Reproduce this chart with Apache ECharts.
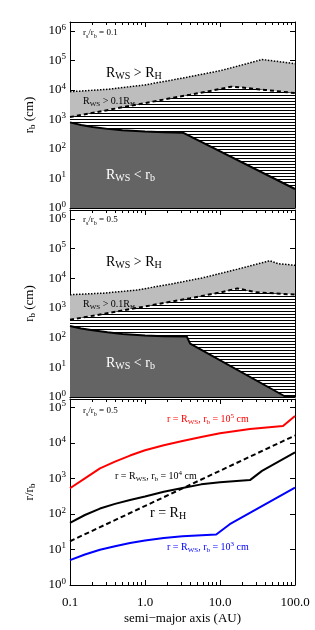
<!DOCTYPE html>
<html><head><meta charset="utf-8">
<script src="https://cdn.jsdelivr.net/npm/echarts@6/dist/echarts.min.js"></script>
<style>html,body{margin:0;padding:0;background:#fff}#c{width:315px;height:630px}</style>
</head><body><div id="c"></div>
<script>
// ---- data (semi-major axis in AU, values in cm or r/r_b) ----
// Panel 1: r_s/r_b = 0.1
const p1DottedAU = [0.1, 0.316, 1, 3.16, 10, 20, 36.3, 100];
const p1DottedR  = [8710, 10470, 14790, 25120, 44670, 70790, 107200, 77620];
const p1DashedAU = [0.1, 1, 4, 10, 14, 20, 40, 100];
const p1DashedR  = [1200, 3600, 6900, 10700, 12900, 12000, 10000, 7800];
const p1SolidAU  = [0.1, 0.141, 0.2, 0.316, 0.5, 1, 1.78, 3.2, 100];
const p1SolidR   = [794, 646, 550, 479, 427, 389, 367, 355, 4.4];
// Panel 2: r_s/r_b = 0.5
const p2DottedAU = [0.1, 0.28, 0.77, 2.15, 6, 16.7, 46, 60, 100];
const p2DottedR  = [2800, 3160, 4000, 6300, 10500, 20000, 38900, 30900, 27500];
const p2DashedAU = [0.1, 1, 4, 10, 17, 30, 100];
const p2DashedR  = [400, 1120, 2140, 3310, 4570, 3390, 2820];
const p2SolidAU  = [0.1, 0.141, 0.2, 0.316, 0.5, 1, 1.78, 3.6, 4.0, 76, 100];
const p2SolidR   = [245, 204, 178, 151, 132, 117, 112, 110, 63, 1, 1];
// Panel 3: r / r_b
const redAU   = [0.1, 0.158, 0.251, 0.398, 0.631, 1, 1.78, 3.16, 5.62, 10, 25.1, 69.2, 100];
const redR    = [525, 1000, 1905, 2950, 4365, 6166, 8511, 11220, 14450, 18620, 24550, 29510, 56230];
const blackAU = [0.1, 0.158, 0.251, 0.398, 0.631, 1, 1.78, 3.16, 5.62, 10, 25.1, 36.3, 100];
const blackR  = [56, 93, 141, 191, 245, 309, 417, 537, 676, 776, 891, 1622, 5370];
const hillAU  = [0.1, 100];
const hillR   = [17, 16000];
const blueAU  = [0.1, 0.158, 0.251, 0.398, 0.631, 1, 1.78, 3.16, 8.9, 13.5, 100];
const blueR   = [5.0, 7.2, 9.8, 12.3, 15.1, 17.8, 20.9, 23.4, 26.3, 51.3, 550];
const xTickLabels = ['0.1', '1.0', '10.0', '100.0'];

const zip = (a, b) => a.map((v, i) => [v, b[i]]);
const FONT = 'Liberation Serif';

// hatch pattern (white with black horizontal lines)
const hatch = document.createElement('canvas');
hatch.width = 4; hatch.height = 3;
const hc = hatch.getContext('2d');
hc.fillStyle = '#fff'; hc.fillRect(0, 0, 4, 3);
hc.fillStyle = '#000'; hc.fillRect(0, 2, 4, 1);

const richBase = {
  n: {fontFamily: FONT, fontSize: 13, color: '#000', lineHeight: 16},
  sup: {fontFamily: FONT, fontSize: 9, color: '#000', verticalAlign: 'top', lineHeight: 9},
  sub: {fontFamily: FONT, fontSize: 9, color: '#000', verticalAlign: 'bottom', lineHeight: 9}
};

function yLab(v) {
  const l = Math.log10(v), n = Math.round(l);
  if (Math.abs(l - n) > 1e-6) return '';
  return '{n|10}{sup|' + n + '}';
}
function xLab(v) {
  const l = Math.log10(v), n = Math.round(l);
  if (Math.abs(l - n) > 1e-6) return '';
  return xTickLabels[n + 1];
}

const grids = [
  {left: 70, right: 20, top: 22, height: 186},
  {left: 70, right: 20, top: 210, height: 187},
  {left: 70, right: 20, top: 399, height: 186}
];
const yMax = [2e6, 2e6, 1.7e5];

const xAxes = [], yAxes = [];
grids.forEach((g, i) => {
  ['bottom', 'top'].forEach(pos => {
    const showLab = (i === 2 && pos === 'bottom');
    xAxes.push({
      type: 'log', logBase: 10, gridIndex: i, position: pos, min: 0.1, max: 100,
      axisLine: {show: true, onZero: false, lineStyle: {color: '#000', width: 1}},
      axisTick: {show: true, inside: true, length: 5, lineStyle: {color: '#000'}},
      minorTick: {show: true, splitNumber: 9, length: 3, lineStyle: {color: '#000'}},
      splitLine: {show: false},
      axisLabel: {show: showLab, formatter: xLab, fontFamily: FONT, fontSize: 13, color: '#000', margin: 11},
      name: showLab ? 'semi\u2212major axis (AU)' : '',
      nameLocation: 'middle', nameGap: 27,
      nameTextStyle: {fontFamily: FONT, fontSize: 13, color: '#000'}
    });
  });
  ['left', 'right'].forEach(pos => {
    const left = pos === 'left';
    yAxes.push({
      type: 'log', logBase: 10, gridIndex: i, position: pos, min: 1, max: yMax[i],
      axisLine: {show: true, onZero: false, lineStyle: {color: '#000', width: 1}},
      axisTick: {show: true, inside: true, length: 5, lineStyle: {color: '#000'}},
      minorTick: {show: false},
      splitLine: {show: false},
      axisLabel: {show: left, formatter: yLab, margin: 4, rich: richBase, showMaxLabel: false},
      name: left ? (i < 2 ? '{n|r}{sub|b}{n| (cm)}' : '{n|r/r}{sub|b}') : '',
      nameLocation: 'middle', nameRotate: 90, nameGap: 28,
      nameTextStyle: {rich: richBase}
    });
  });
});

function lineS(grid, data, color, type, width, area, z) {
  const s = {
    type: 'line', xAxisIndex: grid * 2, yAxisIndex: grid * 2, data: data,
    symbol: 'none', smooth: false, z: z, silent: true, animation: false,
    lineStyle: {color: color, type: type, width: width}
  };
  if (area) s.areaStyle = {color: area, opacity: 1, origin: 'start'};
  return s;
}

const series = [
  lineS(0, zip(p1DottedAU, p1DottedR), '#000', 'dotted', 1.5, '#bdbdbd', 2),
  lineS(0, zip(p1DashedAU, p1DashedR), '#000', [4, 3], 2, {image: hatch, repeat: 'repeat'}, 3),
  lineS(0, zip(p1SolidAU, p1SolidR), '#000', 'solid', 2, '#646464', 4),
  lineS(1, zip(p2DottedAU, p2DottedR), '#000', 'dotted', 1.5, '#bdbdbd', 2),
  lineS(1, zip(p2DashedAU, p2DashedR), '#000', [4, 3], 2, {image: hatch, repeat: 'repeat'}, 3),
  lineS(1, zip(p2SolidAU, p2SolidR), '#000', 'solid', 2, '#646464', 4),
  lineS(2, zip(redAU, redR), '#ff0000', 'solid', 2, null, 3),
  lineS(2, zip(blackAU, blackR), '#000', 'solid', 2, null, 3),
  lineS(2, zip(hillAU, hillR), '#000', [5, 3], 2, null, 3),
  lineS(2, zip(blueAU, blueR), '#0000ff', 'solid', 2, null, 3)
];

function txt(x, y, text, size, color, align) {
  const sm = Math.round(size * 0.68);
  return {
    type: 'text', x: x, y: y, z: 100, silent: true,
    style: {
      text: text, align: align || 'left', verticalAlign: 'middle',
      rich: {
        n: {fontFamily: FONT, fontSize: size, fill: color, lineHeight: size + 3},
        sub: {fontFamily: FONT, fontSize: sm, fill: color, verticalAlign: 'bottom', lineHeight: sm},
        sup: {fontFamily: FONT, fontSize: sm, fill: color, verticalAlign: 'top', lineHeight: sm}
      }
    }
  };
}

const graphic = [
  // panel 1
  txt(83, 33, '{n|r}{sub|s}{n|/r}{sub|b}{n| = 0.1}', 9, '#000'),
  txt(106, 73, '{n|R}{sub|WS}{n| > R}{sub|H}', 14, '#000'),
  txt(83, 101, '{n|R}{sub|WS}{n| > 0.1R}{sub|H}', 10, '#000'),
  txt(106, 175, '{n|R}{sub|WS}{n| < r}{sub|b}', 14, '#fff'),
  // panel 2
  txt(83, 220, '{n|r}{sub|s}{n|/r}{sub|b}{n| = 0.5}', 9, '#000'),
  txt(106, 262, '{n|R}{sub|WS}{n| > R}{sub|H}', 14, '#000'),
  txt(83, 304, '{n|R}{sub|WS}{n| > 0.1R}{sub|H}', 10, '#000'),
  txt(106, 363, '{n|R}{sub|WS}{n| < r}{sub|b}', 14, '#fff'),
  // panel 3
  txt(83, 411, '{n|r}{sub|s}{n|/r}{sub|b}{n| = 0.5}', 9, '#000'),
  txt(167, 419, '{n|r = R}{sub|WS}{n|, r}{sub|b}{n| = 10}{sup|5}{n| cm}', 10, '#ff0000'),
  txt(115, 476, '{n|r = R}{sub|WS}{n|, r}{sub|b}{n| = 10}{sup|4}{n| cm}', 10, '#000'),
  txt(150, 513, '{n|r = R}{sub|H}', 14, '#000'),
  txt(167, 547, '{n|r = R}{sub|WS}{n|, r}{sub|b}{n| = 10}{sup|3}{n| cm}', 10, '#0000ff')
];

const chart = echarts.init(document.getElementById('c'), null, {renderer: 'canvas'});
chart.setOption({
  animation: false,
  backgroundColor: '#fff',
  grid: grids.map(g => Object.assign({outerBoundsMode: 'none'}, g)),
  xAxis: xAxes,
  yAxis: yAxes,
  series: series,
  graphic: graphic
});
</script></body></html>
